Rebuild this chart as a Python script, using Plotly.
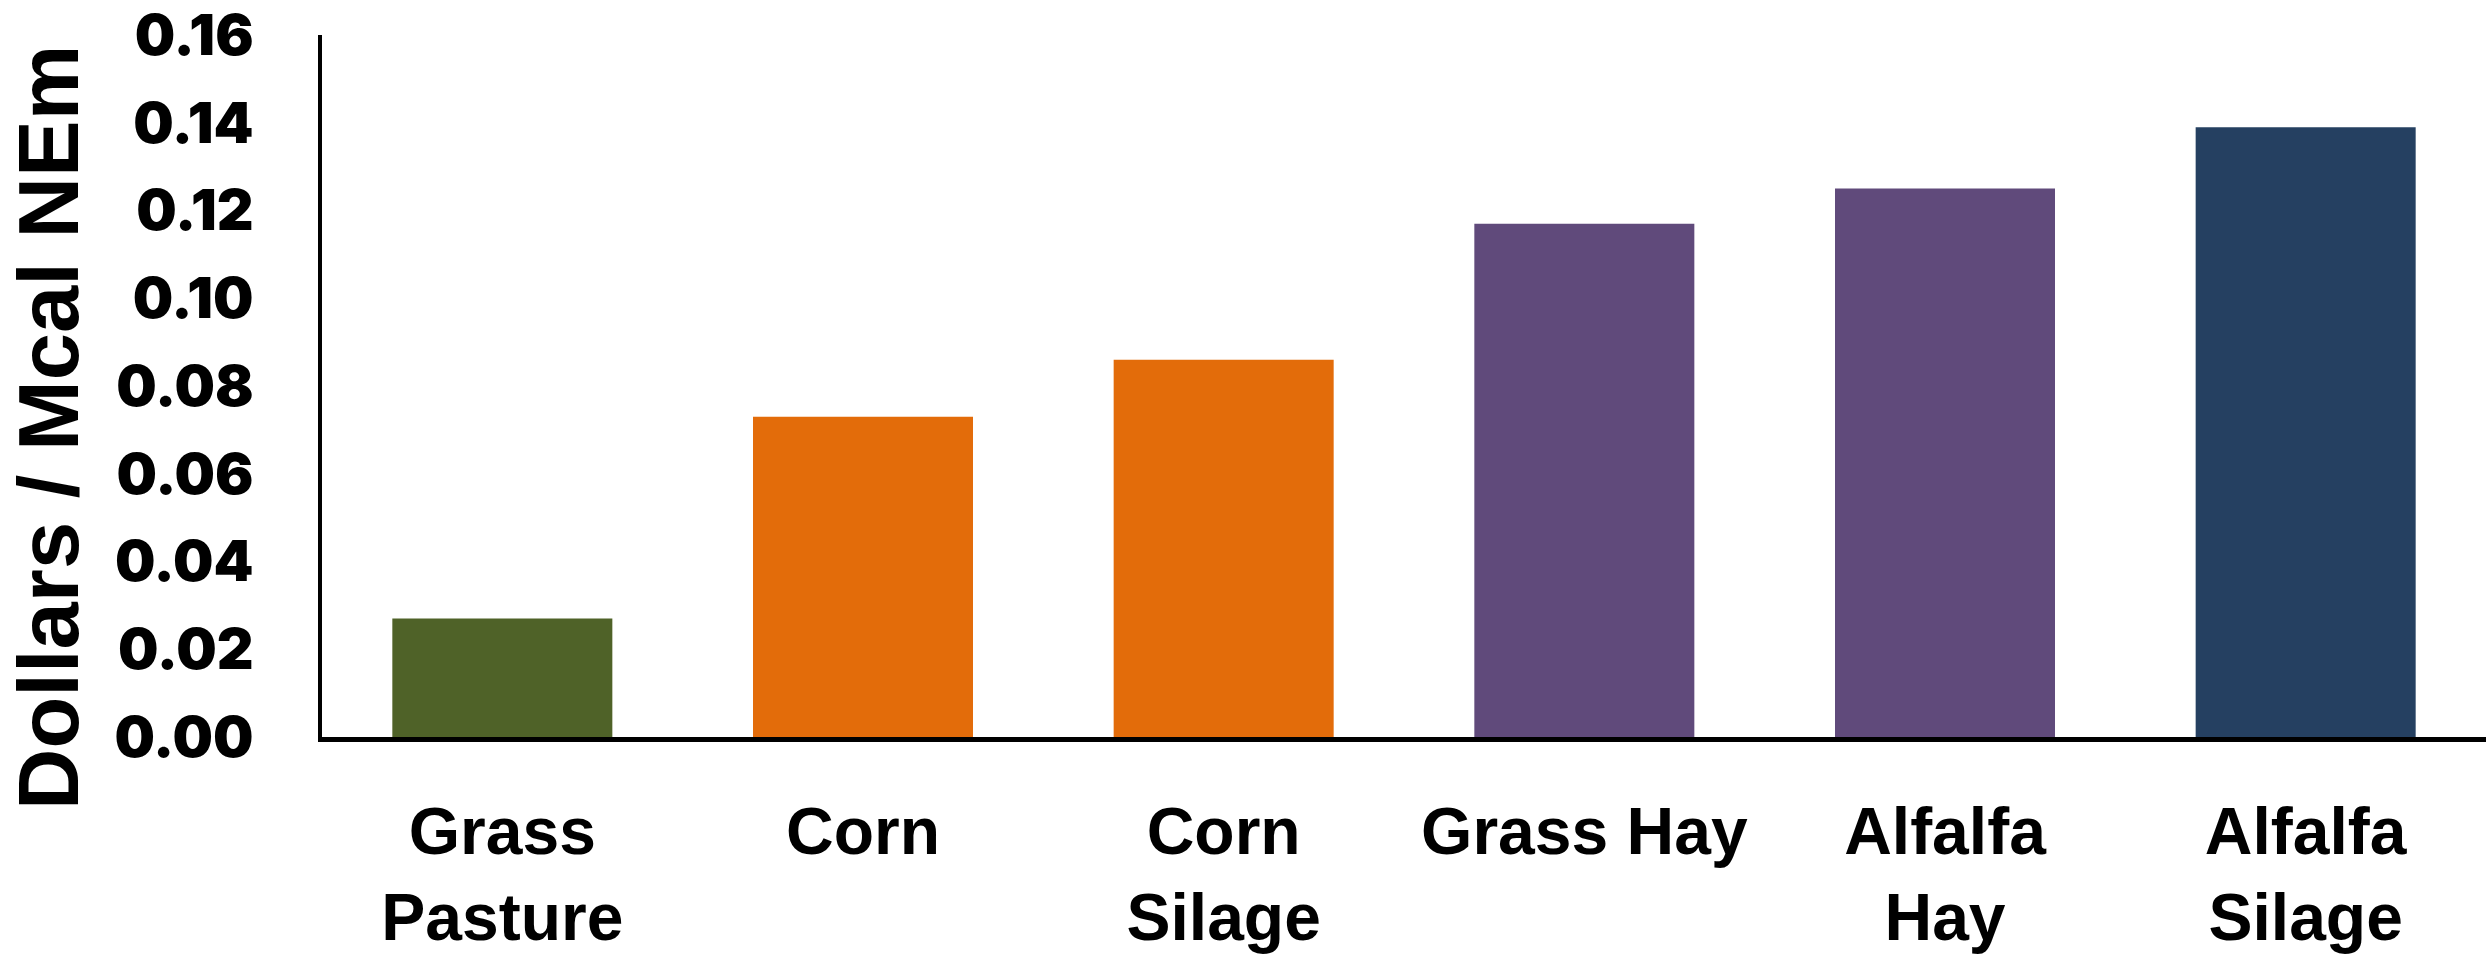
import plotly.graph_objects as go

categories = ["Grass<br>Pasture", "Corn", "Corn<br>Silage", "Grass Hay", "Alfalfa<br>Hay", "Alfalfa<br>Silage"]
values = [0.027, 0.073, 0.086, 0.117, 0.125, 0.139]
colors = ["#4F6228", "#E36C0A", "#E36C0A", "#604A7B", "#604A7B", "#254061"]
y_ticks = [0.00, 0.02, 0.04, 0.06, 0.08, 0.10, 0.12, 0.14, 0.16]
y_title = "Dollars / Mcal NEm"

W, H = 2486, 961
L, R, T, B = 322, 0, 35, 224

fig = go.Figure()
fig.add_trace(go.Bar(x=categories, y=values, marker=dict(color=colors, line=dict(width=0)), width=0.61))

fig.update_layout(
    width=W, height=H,
    margin=dict(l=L, r=R, t=T, b=B, pad=0),
    paper_bgcolor="white", plot_bgcolor="white",
    showlegend=False,
    bargap=0.39,
)
fig.update_xaxes(
    automargin=False,
    showline=True, linecolor="black", linewidth=5,
    showgrid=False, ticks="", ticklabelstandoff=33,
    tickfont=dict(family="Liberation Sans, Arial, sans-serif", size=66, color="black", weight="bold"),
)
fig.update_yaxes(
    automargin=False,
    range=[0, 0.16], tickvals=y_ticks, ticktext=[f"{v:.2f}" for v in y_ticks],
    showline=True, linecolor="black", linewidth=4,
    showgrid=False, zeroline=False, ticks="", ticklabelstandoff=53,
    ticklabeloverflow="allow",
    tickfont=dict(family="Inter, DejaVu Sans, sans-serif", size=57, color="black", weight=900),
)
fig.add_annotation(
    text=y_title, textangle=-90, showarrow=False,
    xref="paper", yref="paper",
    x=(48 - L) / (W - L - R), y=(H - B - 428) / (H - T - B),
    xanchor="center", yanchor="middle",
    font=dict(family="Liberation Sans, Arial, sans-serif", size=85, color="black", weight="bold"),
)

fig.write_html("out.html")
